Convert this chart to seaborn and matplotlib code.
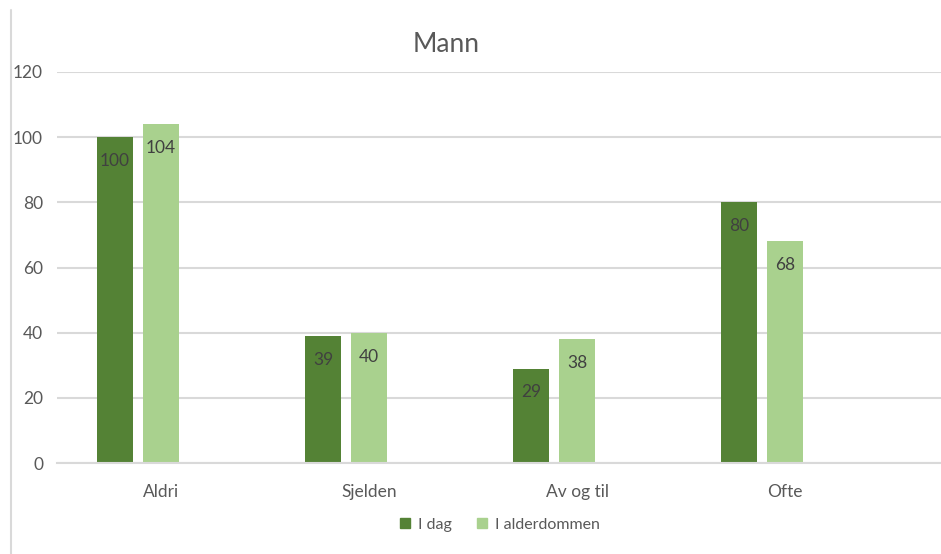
import matplotlib
matplotlib.use("Agg")
import matplotlib.pyplot as plt
from matplotlib.lines import Line2D
import seaborn as sns
import pandas as pd

categories = ["Aldri", "Sjelden", "Av og til", "Ofte"]
i_dag = [100, 39, 29, 80]
i_alderdommen = [104, 40, 38, 68]
series_names = ["I dag", "I alderdommen"]
y_ticks = [0, 20, 40, 60, 80, 100, 120]

dark_green = "#548235"
light_green = "#A9D18E"
grid_grey = "#D9D9D9"
text_grey = "#595959"
label_grey = "#404040"

sns.set_theme(style="white")
plt.rcParams["font.family"] = ["Lato", "DejaVu Sans"]

df = pd.DataFrame({
    "kategori": categories * 2,
    "serie": [series_names[0]] * 4 + [series_names[1]] * 4,
    "verdi": i_dag + i_alderdommen,
})

fig = plt.figure(figsize=(9.41, 5.54), dpi=100)
ax = fig.add_axes([57 / 941, 91 / 554, 1 - 57 / 941, (463 - 72) / 554])

# a third, empty slot in each group keeps the two bars left of the category centre
hue_order = series_names + [" "]
sns.barplot(
    data=df, x="kategori", y="verdi", hue="serie", hue_order=hue_order,
    order=categories, palette=[dark_green, light_green, "white"],
    width=3 * 46 / 208, gap=10 / 46, dodge=True, ax=ax, legend=False,
    saturation=1, linewidth=0,
)

ax.set_ylim(0, 120)
ax.set_xlim(-0.5, 3.5 + 52 / 208)
ax.set_yticks(y_ticks)
ax.set_yticklabels([str(t) for t in y_ticks])
ax.yaxis.grid(True, color=grid_grey, linewidth=1.5)
ax.set_axisbelow(True)
for side in ["left", "right", "top"]:
    ax.spines[side].set_visible(False)
ax.spines["bottom"].set_color(grid_grey)
ax.spines["bottom"].set_linewidth(1.5)
ax.tick_params(axis="both", length=0, labelsize=12.5, labelcolor=text_grey)
ax.tick_params(axis="y", pad=10)
ax.tick_params(axis="x", pad=15)
ax.set_xlabel("")
ax.set_ylabel("")

# value labels just inside the top of each bar
for container in ax.containers:
    ax.bar_label(container, fmt="%g", label_type="edge", padding=-23,
                 color=label_grey, fontsize=12.5)

fig.text(446 / 941, 1 - 45 / 554, "Mann", ha="center", va="center",
         fontsize=19, color=text_grey)

handles = [
    plt.Rectangle((0, 0), 1, 1, color=dark_green),
    plt.Rectangle((0, 0), 1, 1, color=light_green),
]
fig.legend(handles, series_names, loc="center", bbox_to_anchor=(500 / 941, 1 - 525 / 554),
           ncol=2, frameon=False, fontsize=11.5, labelcolor=text_grey,
           handlelength=0.6, handleheight=0.6, handletextpad=0.5, columnspacing=1.6)

# chart border on the left
fig.add_artist(Line2D([11 / 941, 11 / 941], [0, 1 - 10 / 554],
                      transform=fig.transFigure, color=grid_grey, linewidth=1.5))

fig.savefig("out.png", dpi=100)
